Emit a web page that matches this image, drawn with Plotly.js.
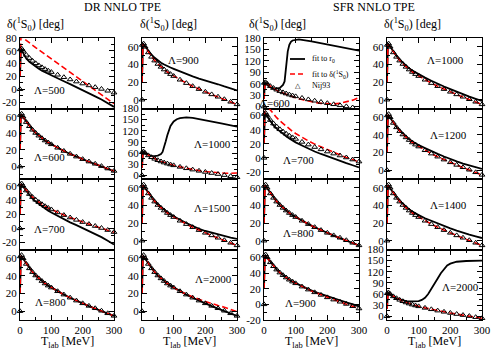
<!DOCTYPE html>
<html>
<head>
<meta charset="utf-8">
<script src="https://cdn.plot.ly/plotly-3.0.1.min.js"></script>
<style>
  html, body { margin: 0; padding: 0; background: #fff; }
  #chart { width: 491px; height: 349px; }
</style>
</head>
<body>
<div id="chart"></div>
<script>
// Nijmegen PWA93 1S0 phase shifts (open triangles), same in every panel
const nijT = [0, 1, 5, 10, 20, 30, 40, 50, 60, 70, 80, 90, 100, 120, 140, 160, 180, 200, 220, 240, 260, 280, 300];
const nijDelta = [0, 62.1, 63.6, 60.0, 53.6, 48.6, 44.3, 40.5, 37.2, 34.2, 31.4, 29.0, 26.8, 22.6, 18.8, 15.3, 12.0, 8.9, 6.0, 3.3, 0.5, -2.4, -5.3];

// energy grid shared by most fitted curves
const tGrid = [0, 1, 3, 5, 10, 20, 30, 40, 50, 60, 70, 80, 90, 100, 120, 140, 160, 180, 200, 220, 240, 260, 280, 300];

// curve that sits on top of the data (used where both fits agree with Nij93)
const goodFit = [20, 58, 63, 62, 59.5, 53.5, 48.5, 44.3, 40.5, 37.2, 34.2, 31.4, 29.0, 26.8, 22.6, 18.8, 15.2, 11.9, 8.8, 5.8, 3.0, 0.2, -2.6, -5.5];

// DR NNLO TPE
const dr500R0 = [20, 55, 62, 61, 56, 48, 43, 39, 35, 32, 29, 26.5, 24, 22, 17, 12.5, 8, 3.5, -1, -6, -11, -16, -21.5, -27.5];
const dr500Fit = [20, 72, 82, 82, 80, 76, 72.5, 69, 65, 61.5, 58, 54.5, 51, 47.5, 40.5, 33.5, 26.5, 19.5, 12.5, 5.5, -1.5, -8.5, -15.5, -22.5];
const dr700R0 = [20, 58, 63, 62, 59, 52.5, 47, 42, 38, 34.5, 31, 28, 25, 22.5, 17.5, 13, 8.5, 4.5, 0.5, -3.5, -8, -12.5, -17.5, -23];
const dr900R0 = [20, 58, 64, 63, 60.5, 55, 51, 47.5, 44.5, 42, 40, 38, 36.5, 35, 32, 29, 26.5, 24, 22, 19.5, 17.5, 15, 12.5, 10.5];
const dr1000T = [0, 1, 3, 5, 10, 20, 30, 40, 50, 60, 65, 70, 75, 80, 85, 90, 100, 110, 120, 140, 160, 200, 250, 300];
const dr1000R0 = [20, 58, 63, 62, 59, 55, 52.5, 51.5, 53, 57, 63, 75, 92, 108, 122, 133, 145, 151, 154, 156, 155, 149, 140, 131];
const dr1000Fit = [20, 58, 63, 62, 59.5, 53.5, 48.5, 44.3, 40.5, 37.2, 34.2, 31.4, 29.0, 26.8, 22.6, 18.8, 15.5, 12.5, 10, 8, 6.5, 5.5, 5.5, 6];
const dr1500R0 = [20, 58, 63, 62, 59.5, 53.5, 48.5, 44.5, 41, 37.8, 35, 32.3, 29.8, 27.6, 23.8, 20, 16.5, 13.5, 11, 9, 7, 5, 3.5, 2];
const dr2000Fit = [20, 58, 63, 62, 59.5, 53.5, 48.5, 44.3, 40.5, 37.2, 34.2, 31.4, 29.0, 26.8, 22.6, 19.2, 16, 13.5, 11, 8.5, 6.5, 4.5, 2, -0.5];

// SFR NNLO TPE
const sfr600T = [0, 1, 3, 5, 10, 20, 30, 40, 50, 55, 60, 65, 70, 75, 80, 85, 90, 100, 110, 150, 200, 250, 300];
const sfr600R0 = [20, 58, 62, 61, 57, 51, 47.5, 47, 49, 52, 57, 66, 105, 145, 162, 170, 173.5, 176, 176.5, 171, 163, 155, 147];
const sfr600Fit = [20, 58, 63, 62, 59, 52.5, 47, 42.5, 38.5, 35, 31.5, 28.5, 25.5, 23, 18.5, 14.5, 11, 8.5, 7, 7, 8.5, 12, 17, 24];
const sfr700R0 = [20, 58, 63, 62, 58.5, 52, 46, 41.5, 37.5, 34, 30.5, 27.5, 24.5, 22, 17.5, 13, 9, 5.5, 2, -1.5, -4.5, -7.5, -10.5, -13.5];
const sfr700Fit = [20, 70, 76, 76, 74, 68, 62, 57, 52.5, 48.5, 44.5, 41, 37.5, 34.5, 29, 24, 19.5, 15.5, 11.5, 7.5, 4, 0.5, -2.5, -6];
const sfr900R0 = [20, 58, 63, 62, 59.5, 53.5, 48.5, 44.3, 40.5, 37.2, 34.2, 31.4, 29.0, 26.9, 23, 19.5, 16, 13, 10, 7.5, 5, 2.5, 0, -2.5];
const sfr1000R0 = [20, 58, 64, 63, 60, 54, 49.5, 45.5, 42, 38.5, 35.5, 33, 30.8, 28.8, 25, 21.5, 18, 15, 12, 9, 6.2, 3.5, 1, -1.5];
const sfr1200R0 = [20, 58, 63, 62, 59.5, 53.5, 49, 45, 41.5, 38, 35, 32.5, 30.3, 28.5, 25, 21.5, 18.5, 15.5, 12.5, 10, 7.5, 5.5, 3.5, 1.5];
const sfr1400R0 = [20, 58, 63, 62, 59.5, 53.5, 49, 45.2, 41.8, 38.5, 35.5, 33, 30.8, 29, 25.5, 22.5, 19.5, 16.5, 14, 11.5, 9, 7, 5, 3];
const sfr2000T = [0, 1, 3, 5, 10, 20, 30, 40, 60, 80, 100, 110, 120, 130, 140, 150, 160, 170, 180, 190, 200, 220, 250, 300];
const sfr2000R0 = [20, 58, 63, 62, 58, 52, 48, 45, 41, 40, 41, 44, 50, 60, 73, 87, 102, 116, 128, 137, 142, 147, 149, 150];

// panels in row-major order (4 rows x 4 columns)
const panels = [
    {lam: 500,  yr: [-30, 80],  dy: 20, r0: [tGrid, dr500R0],   fit: [tGrid, dr500Fit]},
    {lam: 900,  yr: [-10, 70],  dy: 20, r0: [tGrid, dr900R0],   fit: [tGrid, goodFit]},
    {lam: 600,  yr: [-5, 180],  dy: 30, r0: [sfr600T, sfr600R0], fit: [tGrid, sfr600Fit]},
    {lam: 1000, yr: [-10, 70],  dy: 20, r0: [tGrid, sfr1000R0], fit: [tGrid, goodFit]},

    {lam: 600,  yr: [-15, 70],  dy: 20, r0: [tGrid, goodFit],   fit: [tGrid, goodFit]},
    {lam: 1000, yr: [-10, 180], dy: 30, r0: [dr1000T, dr1000R0], fit: [tGrid, dr1000Fit]},
    {lam: 700,  yr: [-30, 70],  dy: 20, r0: [tGrid, sfr700R0],  fit: [tGrid, sfr700Fit]},
    {lam: 1200, yr: [-10, 70],  dy: 20, r0: [tGrid, sfr1200R0], fit: [tGrid, goodFit]},

    {lam: 700,  yr: [-30, 70],  dy: 20, r0: [tGrid, dr700R0],   fit: [tGrid, goodFit]},
    {lam: 1500, yr: [-10, 70],  dy: 20, r0: [tGrid, dr1500R0],  fit: [tGrid, goodFit]},
    {lam: 800,  yr: [-10, 70],  dy: 20, r0: [tGrid, goodFit],   fit: [tGrid, goodFit]},
    {lam: 1400, yr: [-10, 70],  dy: 20, r0: [tGrid, sfr1400R0], fit: [tGrid, goodFit]},

    {lam: 800,  yr: [-10, 70],  dy: 20, r0: [tGrid, goodFit],   fit: [tGrid, goodFit]},
    {lam: 2000, yr: [-10, 70],  dy: 20, r0: [tGrid, goodFit],   fit: [tGrid, dr2000Fit]},
    {lam: 900,  yr: [-20, 70],  dy: 20, r0: [tGrid, sfr900R0],  fit: [tGrid, goodFit]},
    {lam: 2000, yr: [-10, 180], dy: 30, r0: [sfr2000T, sfr2000R0], fit: [tGrid, goodFit]}
];

// page geometry in pixels
const W = 491, H = 349;
const colPx = [[20, 114], [142, 237], [264, 359], [387, 482]];
const rowPx = [[38, 108.5], [108.5, 179], [179, 249.5], [249.5, 320]];
const lamPos = [
    [49, 90], [183, 60], [274, 103], [445, 60],
    [49, 157], [212, 144], [298, 160], [448, 135],
    [49, 229], [212, 208], [298, 233], [448, 205],
    [50, 302], [213, 279], [300, 303], [460, 287]
];
const px = x => x / W;
const py = y => 1 - y / H;
const serif = 'Liberation Serif, serif';
const fmt = v => (v < 0 ? '-' + Math.abs(v) : String(v));

const data = [];
const layout = {
    width: W, height: H,
    margin: {l: 0, r: 0, t: 0, b: 0},
    paper_bgcolor: '#ffffff', plot_bgcolor: '#ffffff',
    showlegend: false,
    font: {family: serif, size: 11, color: '#000'},
    annotations: [], shapes: []
};

panels.forEach((p, i) => {
    const row = Math.floor(i / 4), col = i % 4, n = i + 1;
    const sfx = n === 1 ? '' : String(n);
    const major = [], minor = [];
    for (let v = Math.ceil(p.yr[0] / p.dy) * p.dy; v <= p.yr[1] + 1e-9; v += p.dy) major.push(v);
    for (let v = Math.ceil(p.yr[0] / (p.dy / 2)) * (p.dy / 2); v <= p.yr[1]; v += p.dy / 2) {
        if (major.indexOf(v) < 0) minor.push(v);
    }
    const bottom = row === 3;

    layout['xaxis' + sfx] = {
        domain: [px(colPx[col][0]), px(colPx[col][1])],
        anchor: 'y' + sfx, range: [0, 300], fixedrange: true,
        showline: true, linecolor: '#000', linewidth: 1, mirror: 'ticks',
        ticks: 'inside', ticklen: 5, tickcolor: '#000', tickwidth: 1,
        tickmode: 'array', tickvals: [0, 100, 200, 300], ticktext: ['0', '100', '200', '300'],
        minor: {tickmode: 'array', tickvals: [50, 150, 250], ticks: 'inside', ticklen: 3, tickcolor: '#000', tickwidth: 1},
        showticklabels: bottom, tickfont: {family: serif, size: 11, color: '#000'},
        showgrid: false, zeroline: false
    };
    layout['yaxis' + sfx] = {
        domain: [py(rowPx[row][1]), py(rowPx[row][0])],
        anchor: 'x' + sfx, range: p.yr, fixedrange: true,
        showline: true, linecolor: '#000', linewidth: 1, mirror: 'ticks',
        ticks: 'inside', ticklen: 5, tickcolor: '#000', tickwidth: 1,
        tickmode: 'array', tickvals: major, ticktext: major.map(fmt),
        minor: {tickmode: 'array', tickvals: minor, ticks: 'inside', ticklen: 3, tickcolor: '#000', tickwidth: 1},
        tickfont: {family: serif, size: 11, color: '#000'},
        showgrid: false, zeroline: false
    };

    data.push({
        x: p.r0[0], y: p.r0[1], xaxis: 'x' + sfx, yaxis: 'y' + sfx,
        type: 'scatter', mode: 'lines',
        line: {color: '#000000', width: 1.8}, hoverinfo: 'skip'
    });
    data.push({
        x: p.fit[0], y: p.fit[1], xaxis: 'x' + sfx, yaxis: 'y' + sfx,
        type: 'scatter', mode: 'lines',
        line: {color: '#ff0000', width: 1.6, dash: '6px,3px'}, hoverinfo: 'skip'
    });
    data.push({
        x: nijT, y: nijDelta, xaxis: 'x' + sfx, yaxis: 'y' + sfx,
        type: 'scatter', mode: 'markers', cliponaxis: false,
        marker: {symbol: 'triangle-up-open', size: 5, color: '#000', line: {color: '#000', width: 1}},
        hoverinfo: 'skip'
    });

    layout.annotations.push({
        text: '\u039b=' + p.lam, xref: 'paper', yref: 'paper',
        x: px(lamPos[i][0]), y: py(lamPos[i][1]), xanchor: 'center', yanchor: 'middle',
        showarrow: false, font: {family: serif, size: 11, color: '#000'}
    });

    if (bottom) {
        layout.annotations.push({
            text: 'T<sub>lab</sub> [MeV]', xref: 'paper', yref: 'paper',
            x: px((colPx[col][0] + colPx[col][1]) / 2), y: py(341.5),
            xanchor: 'center', yanchor: 'middle', showarrow: false,
            font: {family: serif, size: 12, color: '#000'}
        });
    }
});

// column headers: y-axis labels above each column and the two group titles
[5, 138, 247, 382].forEach(x => {
    layout.annotations.push({
        text: '\u03b4(<sup>1</sup>S<sub>0</sub>) [deg]', xref: 'paper', yref: 'paper',
        x: px(x), y: py(25), xanchor: 'left', yanchor: 'middle', showarrow: false,
        font: {family: serif, size: 12, color: '#000'}
    });
});
[['DR NNLO TPE', 122], ['SFR NNLO TPE', 374]].forEach(([t, x]) => {
    layout.annotations.push({
        text: t, xref: 'paper', yref: 'paper', x: px(x), y: py(7),
        xanchor: 'center', yanchor: 'middle', showarrow: false,
        font: {family: serif, size: 12, color: '#000'}
    });
});

// legend drawn by hand inside the first SFR panel
const legendRows = [
    {text: 'fit to r<sub>0</sub>', y: 59},
    {text: 'fit to \u03b4(<sup>1</sup>S<sub>0</sub>)', y: 74},
    {text: 'Nij93', y: 86}
];
legendRows.forEach(r => {
    layout.annotations.push({
        text: r.text, xref: 'paper', yref: 'paper', x: px(310), y: py(r.y),
        xanchor: 'left', yanchor: 'middle', showarrow: false,
        font: {family: serif, size: 8, color: '#000'}
    });
});
layout.shapes.push({type: 'line', xref: 'paper', yref: 'paper', x0: px(290), x1: px(305), y0: py(59), y1: py(59), line: {color: '#000', width: 1.8}});
layout.shapes.push({type: 'line', xref: 'paper', yref: 'paper', x0: px(290), x1: px(305), y0: py(74), y1: py(74), line: {color: '#ff0000', width: 1.6, dash: '5px,3px'}});
layout.annotations.push({
    text: '\u25b3', xref: 'paper', yref: 'paper', x: px(298), y: py(86),
    xanchor: 'center', yanchor: 'middle', showarrow: false,
    font: {family: 'DejaVu Sans', size: 7, color: '#000'}
});

Plotly.newPlot('chart', data, layout, {displayModeBar: false, staticPlot: true});
</script>
</body>
</html>
